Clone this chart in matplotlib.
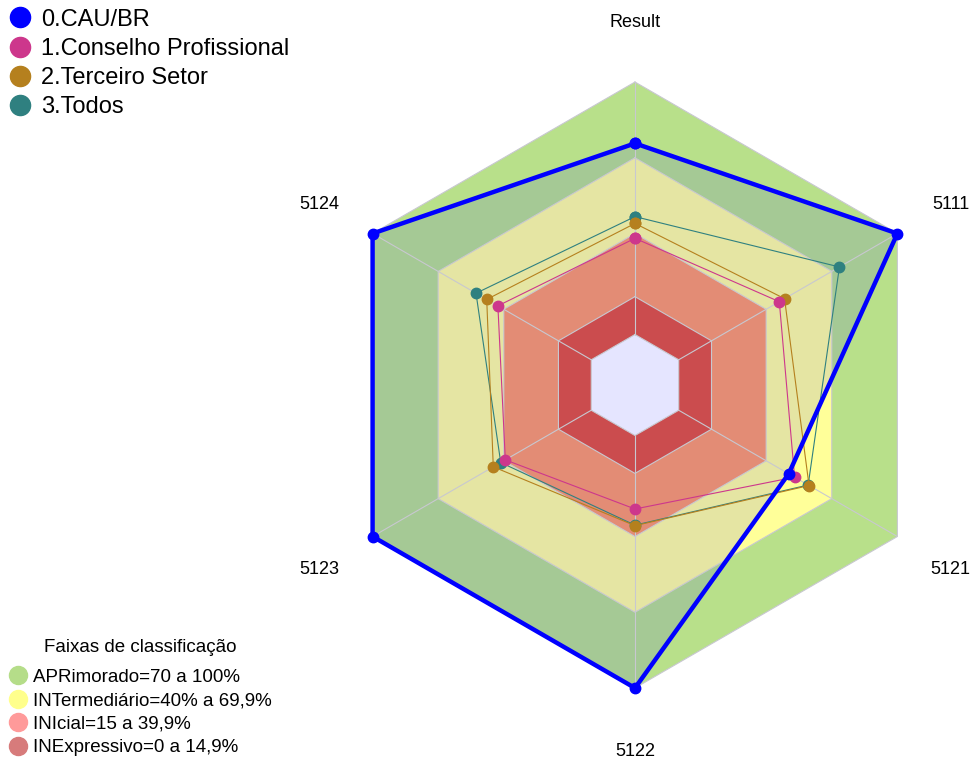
import numpy as np
import matplotlib
matplotlib.use('Agg')
import matplotlib.pyplot as plt
from matplotlib.lines import Line2D

plt.rcParams['font.family'] = ['Liberation Sans', 'DejaVu Sans']

# ---------------- data ----------------
categories = ['Result', '5111', '5121', '5122', '5123', '5124']
series_names = ['0.CAU/BR', '1.Conselho Profissional', '2.Terceiro Setor', '3.Todos']
cau_br = [75.7, 100, 50.3, 100, 100, 100]
conselho = [38.1, 46.0, 53.0, 29.1, 39.3, 42.7]
terceiro = [44.0, 48.4, 59.6, 35.7, 44.8, 47.8]
todos = [46.7, 73.5, 59.2, 35.5, 41.4, 52.7]

band_upper = [100, 70, 40, 15]
band_labels = ['APRimorado=70 a 100%', 'INTermediário=40% a 69,9%',
               'INIcial=15 a 39,9%', 'INExpressivo=0 a 14,9%']
band_floor = 0
legend_title = 'Faixas de classificação'
r_min, r_max = -20, 100

# ---------------- styles ----------------
series_colors = ['#0000FF', '#CD378C', '#B5801E', '#2F8080']
band_colors = ['#B8E08A', '#FFFF99', '#FD9C66', '#E3553A']
band_legend_colors = ['#B5DD89', '#FFFF8C', '#FF9A9A', '#D77B7B']

fig = plt.figure(figsize=(9.73, 7.6), dpi=100)
ax = fig.add_axes([0.3412, 0.0947, 0.6228, 0.7974], projection='polar')
ax.set_theta_zero_location('N')
ax.set_theta_direction(-1)
ax.set_ylim(r_min, r_max)
ax.set_xticks([])
ax.set_yticks([])
ax.grid(False)
ax.spines['polar'].set_visible(False)
ax.patch.set_visible(False)

n = len(categories)
theta = np.linspace(0, 2 * np.pi, n, endpoint=False)
tc = np.append(theta, theta[0])

def closed(vals):
    v = list(vals)
    return v + v[:1]

# bands (stacked opaque hexagons)
for up, col in zip(band_upper, band_colors):
    ax.fill(tc, [up] * (n + 1), color=col, lw=0, zorder=1)
ax.fill(tc, [band_floor] * (n + 1), color='white', lw=0, zorder=1)

# CAU/BR translucent fill
ax.fill(tc, closed(cau_br), color=series_colors[0], alpha=0.1, lw=0, zorder=2)

# grid
for lev in [band_floor] + band_upper:
    ax.plot(tc, [lev] * (n + 1), color='#C8C8D0', lw=0.8, zorder=3, clip_on=False)
for t in theta:
    ax.plot([t, t], [band_floor, r_max], color='#C8C8D0', lw=0.8, zorder=3)

# series (drawn back to front)
all_series = [cau_br, conselho, terceiro, todos]
widths = [3.2, 0.8, 0.8, 0.8]
for i in [3, 2, 1, 0]:
    ax.plot(tc, closed(all_series[i]), color=series_colors[i], lw=widths[i],
            marker='o', markersize=7.5, zorder=4 + (3 - i), clip_on=False)

# axis labels
for t, lab in zip(theta, categories):
    ax.text(t, 124.3, lab, ha='center', va='center_baseline', fontsize=13, color='black')

# series legend
h1 = [Line2D([], [], ls='', marker='o', markersize=14.5, color=c) for c in series_colors]
fig.legend(h1, series_names, loc='upper left', bbox_to_anchor=(0.0, 1.0),
           frameon=False, fontsize=17, handlelength=0.95, handletextpad=0.42,
           labelspacing=0.31, borderpad=0.36, borderaxespad=0)

# band legend
h2 = [Line2D([], [], ls='', marker='o', markersize=13, color=c) for c in band_legend_colors]
leg2 = fig.legend(h2, band_labels, loc='lower left', bbox_to_anchor=(0.005, 0.0),
                  frameon=False, fontsize=13.5, title=legend_title, title_fontsize=13.5,
                  handlelength=1.0, handletextpad=0.3, labelspacing=0.34,
                  borderpad=0.2, borderaxespad=0)
leg2._legend_box.sep = 9.0

fig.savefig('out.png', dpi=100)
